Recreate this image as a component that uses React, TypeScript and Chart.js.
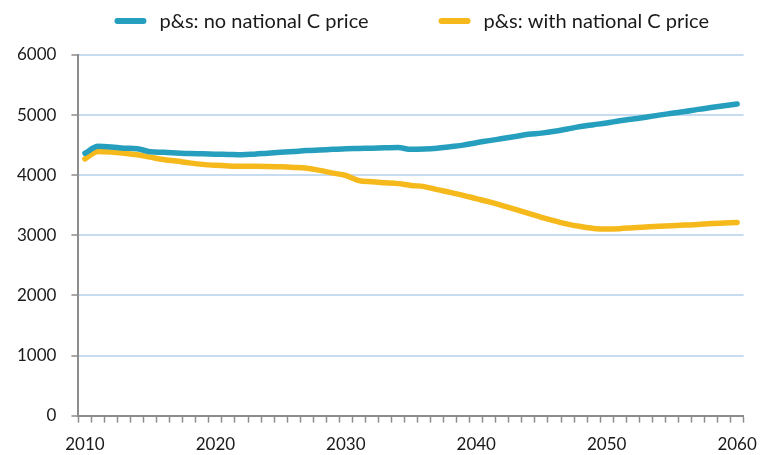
import React, { useEffect, useRef } from 'react';
import { Chart, registerables } from 'chart.js';

Chart.register(...registerables);

const years = [
  '2010', '2011', '2012', '2013', '2014', '2015', '2016', '2017', '2018', '2019',
  '2020', '2021', '2022', '2023', '2024', '2025', '2026', '2027', '2028', '2029',
  '2030', '2031', '2032', '2033', '2034', '2035', '2036', '2037', '2038', '2039',
  '2040', '2041', '2042', '2043', '2044', '2045', '2046', '2047', '2048', '2049',
  '2050', '2051', '2052', '2053', '2054', '2055', '2056', '2057', '2058', '2059',
  '2060',
];

const noNationalCPrice = [
  4365, 4480, 4470, 4450, 4440, 4390, 4380, 4370, 4360, 4355,
  4350, 4345, 4340, 4350, 4365, 4380, 4395, 4410, 4420, 4430,
  4440, 4445, 4450, 4455, 4460, 4430, 4435, 4450, 4475, 4500,
  4540, 4575, 4610, 4645, 4680, 4700, 4730, 4770, 4810, 4840,
  4870, 4905, 4935, 4965, 5000, 5030, 5060, 5095, 5125, 5155,
  5185,
];

const withNationalCPrice = [
  4270, 4395, 4385, 4365, 4340, 4300, 4260, 4235, 4205, 4180,
  4165, 4155, 4150, 4148, 4145, 4140, 4130, 4115, 4080, 4035,
  3995, 3910, 3890, 3875, 3860, 3830, 3810, 3760, 3715, 3665,
  3610, 3555, 3495, 3430, 3365, 3300, 3240, 3185, 3145, 3115,
  3105, 3110, 3125, 3140, 3150, 3160, 3170, 3180, 3195, 3205,
  3215,
];

const seriesLabels = ['p&s: no national C price', 'p&s: with national C price'];
const yTicks = [0, 1000, 2000, 3000, 4000, 5000, 6000];
const xLabelYears = ['2010', '2020', '2030', '2040', '2050', '2060'];

const BLUE = '#259fbd';
const YELLOW = '#f6b91c';
const AXIS = '#8c8c8c';
const GRID = '#c8dcf0';
const TEXT = '#1a1a1a';
const FONT = 'Lato';

const legendPlugin = {
  id: 'customLegend',
  afterDraw(chart: any) {
    const { ctx, chartArea } = chart;
    ctx.save();
    ctx.font = `20px ${FONT}`;
    ctx.textBaseline = 'middle';
    const swatch = 32;
    const gap = 13;
    const spacing = 70;
    const items = chart.data.datasets.map((ds: any) => ({ text: ds.label, color: ds.borderColor }));
    const widths = items.map((it: any) => swatch + gap + ctx.measureText(it.text).width);
    let x = chartArea.left + 36;
    const y = 21;
    items.forEach((it: any, i: number) => {
      ctx.strokeStyle = it.color;
      ctx.lineWidth = 6;
      ctx.lineCap = 'round';
      ctx.beginPath();
      ctx.moveTo(x + 3, y);
      ctx.lineTo(x + swatch - 3, y);
      ctx.stroke();
      ctx.fillStyle = TEXT;
      ctx.textAlign = 'left';
      ctx.fillText(it.text, x + swatch + gap, y + 1);
      x += widths[i] + spacing;
    });
    ctx.restore();
  },
};

export default function App() {
  const canvasRef = useRef<HTMLCanvasElement | null>(null);

  useEffect(() => {
    if (!canvasRef.current) return;
    const chart = new Chart(canvasRef.current, {
      type: 'line',
      data: {
        labels: years,
        datasets: [
          {
            label: seriesLabels[0],
            data: noNationalCPrice,
            borderColor: BLUE,
            backgroundColor: BLUE,
            borderWidth: 5.5,
            pointRadius: 0,
            borderCapStyle: 'round',
            borderJoinStyle: 'round',
            cubicInterpolationMode: 'monotone',
          },
          {
            label: seriesLabels[1],
            data: withNationalCPrice,
            borderColor: YELLOW,
            backgroundColor: YELLOW,
            borderWidth: 5.5,
            pointRadius: 0,
            borderCapStyle: 'round',
            borderJoinStyle: 'round',
            cubicInterpolationMode: 'monotone',
          },
        ],
      },
      options: {
        responsive: false,
        animation: false,
        layout: { padding: { left: 2, top: 55, right: 16, bottom: -12 } },
        plugins: {
          legend: { display: false },
          tooltip: { enabled: false },
        },
        scales: {
          x: {
            type: 'category',
            offset: true,
            border: { display: true, color: AXIS, width: 2 },
            grid: {
              offset: true,
              drawOnChartArea: false,
              drawTicks: true,
              tickLength: 7,
              tickColor: AXIS,
              tickWidth: 1.5,
            },
            ticks: {
              autoSkip: false,
              maxRotation: 0,
              padding: 12,
              color: TEXT,
              font: { family: FONT, size: 17 },
              callback: function (this: any, value: any) {
                const lbl = this.getLabelForValue(value);
                return xLabelYears.includes(lbl) ? lbl : '';
              },
            },
          },
          y: {
            min: 0,
            max: 6000,
            afterBuildTicks: (axis: any) => {
              axis.ticks = yTicks.map((v) => ({ value: v }));
            },
            border: { display: true, color: AXIS, width: 2 },
            grid: {
              color: GRID,
              lineWidth: 2,
              tickLength: 7,
              tickColor: AXIS,
              tickWidth: 1.5,
            },
            ticks: {
              padding: 15,
              color: TEXT,
              font: { family: FONT, size: 17 },
              callback: (value: any) => String(value),
            },
          },
        },
      },
      plugins: [legendPlugin],
    });
    return () => chart.destroy();
  }, []);

  return (
    <div style={{ position: 'fixed', left: 0, top: 0, width: 769, height: 455, background: '#fff' }}>
      <canvas ref={canvasRef} width={769} height={455} style={{ width: 769, height: 455 }} />
    </div>
  );
}
